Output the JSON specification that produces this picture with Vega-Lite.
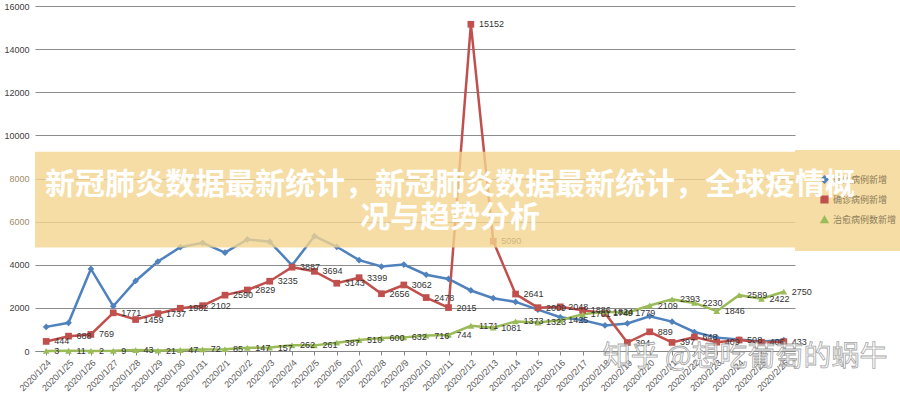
{
  "$schema": "https://vega.github.io/schema/vega-lite/v6.json",
  "width": 760,
  "height": 345,
  "autosize": {"type": "none"},
  "padding": {"left": 35, "top": 6, "right": 105, "bottom": 49},
  "background": "white",
  "config": {"view": {"stroke": null}, "font": "Liberation Sans"},
  "title": {
    "text": ["新冠肺炎数据最新统计，新冠肺炎数据最新统计，全球疫情概", "况与趋势分析"],
    "font": "Noto Sans CJK SC",
    "fontWeight": "bold",
    "fontSize": 30,
    "lineHeight": 33,
    "color": "white",
    "anchor": "middle",
    "frame": "group",
    "baseline": "top",
    "dx": 35,
    "offset": -231,
    "zindex": 5
  },
  "datasets": {
    "main": [
      {"date": "2020/1/24", "series": "疑似病例新增", "value": 1118},
      {"date": "2020/1/25", "series": "疑似病例新增", "value": 1309},
      {"date": "2020/1/26", "series": "疑似病例新增", "value": 3806},
      {"date": "2020/1/27", "series": "疑似病例新增", "value": 2077},
      {"date": "2020/1/28", "series": "疑似病例新增", "value": 3248},
      {"date": "2020/1/29", "series": "疑似病例新增", "value": 4148},
      {"date": "2020/1/30", "series": "疑似病例新增", "value": 4812},
      {"date": "2020/1/31", "series": "疑似病例新增", "value": 5019},
      {"date": "2020/2/1", "series": "疑似病例新增", "value": 4562},
      {"date": "2020/2/2", "series": "疑似病例新增", "value": 5173},
      {"date": "2020/2/3", "series": "疑似病例新增", "value": 5072},
      {"date": "2020/2/4", "series": "疑似病例新增", "value": 3971},
      {"date": "2020/2/5", "series": "疑似病例新增", "value": 5328},
      {"date": "2020/2/6", "series": "疑似病例新增", "value": 4833},
      {"date": "2020/2/7", "series": "疑似病例新增", "value": 4214},
      {"date": "2020/2/8", "series": "疑似病例新增", "value": 3916},
      {"date": "2020/2/9", "series": "疑似病例新增", "value": 4008},
      {"date": "2020/2/10", "series": "疑似病例新增", "value": 3536},
      {"date": "2020/2/11", "series": "疑似病例新增", "value": 3342},
      {"date": "2020/2/12", "series": "疑似病例新增", "value": 2807},
      {"date": "2020/2/13", "series": "疑似病例新增", "value": 2450},
      {"date": "2020/2/14", "series": "疑似病例新增", "value": 2277},
      {"date": "2020/2/15", "series": "疑似病例新增", "value": 1918},
      {"date": "2020/2/16", "series": "疑似病例新增", "value": 1563},
      {"date": "2020/2/17", "series": "疑似病例新增", "value": 1432},
      {"date": "2020/2/18", "series": "疑似病例新增", "value": 1185},
      {"date": "2020/2/19", "series": "疑似病例新增", "value": 1277},
      {"date": "2020/2/20", "series": "疑似病例新增", "value": 1614},
      {"date": "2020/2/21", "series": "疑似病例新增", "value": 1361},
      {"date": "2020/2/22", "series": "疑似病例新增", "value": 882},
      {"date": "2020/2/23", "series": "疑似病例新增", "value": 620},
      {"date": "2020/2/24", "series": "疑似病例新增", "value": 530},
      {"date": "2020/2/25", "series": "疑似病例新增", "value": 439},
      {"date": "2020/2/26", "series": "疑似病例新增", "value": 508},
      {"date": "2020/1/24", "series": "确诊病例新增", "value": 444},
      {"date": "2020/1/25", "series": "确诊病例新增", "value": 688},
      {"date": "2020/1/26", "series": "确诊病例新增", "value": 769},
      {"date": "2020/1/27", "series": "确诊病例新增", "value": 1771},
      {"date": "2020/1/28", "series": "确诊病例新增", "value": 1459},
      {"date": "2020/1/29", "series": "确诊病例新增", "value": 1737},
      {"date": "2020/1/30", "series": "确诊病例新增", "value": 1982},
      {"date": "2020/1/31", "series": "确诊病例新增", "value": 2102},
      {"date": "2020/2/1", "series": "确诊病例新增", "value": 2590},
      {"date": "2020/2/2", "series": "确诊病例新增", "value": 2829},
      {"date": "2020/2/3", "series": "确诊病例新增", "value": 3235},
      {"date": "2020/2/4", "series": "确诊病例新增", "value": 3887},
      {"date": "2020/2/5", "series": "确诊病例新增", "value": 3694},
      {"date": "2020/2/6", "series": "确诊病例新增", "value": 3143},
      {"date": "2020/2/7", "series": "确诊病例新增", "value": 3399},
      {"date": "2020/2/8", "series": "确诊病例新增", "value": 2656},
      {"date": "2020/2/9", "series": "确诊病例新增", "value": 3062},
      {"date": "2020/2/10", "series": "确诊病例新增", "value": 2478},
      {"date": "2020/2/11", "series": "确诊病例新增", "value": 2015},
      {"date": "2020/2/12", "series": "确诊病例新增", "value": 15152},
      {"date": "2020/2/13", "series": "确诊病例新增", "value": 5090},
      {"date": "2020/2/14", "series": "确诊病例新增", "value": 2641},
      {"date": "2020/2/15", "series": "确诊病例新增", "value": 2009},
      {"date": "2020/2/16", "series": "确诊病例新增", "value": 2048},
      {"date": "2020/2/17", "series": "确诊病例新增", "value": 1886},
      {"date": "2020/2/18", "series": "确诊病例新增", "value": 1749},
      {"date": "2020/2/19", "series": "确诊病例新增", "value": 394},
      {"date": "2020/2/20", "series": "确诊病例新增", "value": 889},
      {"date": "2020/2/21", "series": "确诊病例新增", "value": 397},
      {"date": "2020/2/22", "series": "确诊病例新增", "value": 648},
      {"date": "2020/2/23", "series": "确诊病例新增", "value": 409},
      {"date": "2020/2/24", "series": "确诊病例新增", "value": 508},
      {"date": "2020/2/25", "series": "确诊病例新增", "value": 406},
      {"date": "2020/2/26", "series": "确诊病例新增", "value": 433},
      {"date": "2020/1/24", "series": "治愈病例数新增", "value": 3},
      {"date": "2020/1/25", "series": "治愈病例数新增", "value": 11},
      {"date": "2020/1/26", "series": "治愈病例数新增", "value": 2},
      {"date": "2020/1/27", "series": "治愈病例数新增", "value": 9},
      {"date": "2020/1/28", "series": "治愈病例数新增", "value": 43},
      {"date": "2020/1/29", "series": "治愈病例数新增", "value": 21},
      {"date": "2020/1/30", "series": "治愈病例数新增", "value": 47},
      {"date": "2020/1/31", "series": "治愈病例数新增", "value": 72},
      {"date": "2020/2/1", "series": "治愈病例数新增", "value": 85},
      {"date": "2020/2/2", "series": "治愈病例数新增", "value": 147},
      {"date": "2020/2/3", "series": "治愈病例数新增", "value": 157},
      {"date": "2020/2/4", "series": "治愈病例数新增", "value": 262},
      {"date": "2020/2/5", "series": "治愈病例数新增", "value": 261},
      {"date": "2020/2/6", "series": "治愈病例数新增", "value": 387},
      {"date": "2020/2/7", "series": "治愈病例数新增", "value": 510},
      {"date": "2020/2/8", "series": "治愈病例数新增", "value": 600},
      {"date": "2020/2/9", "series": "治愈病例数新增", "value": 632},
      {"date": "2020/2/10", "series": "治愈病例数新增", "value": 716},
      {"date": "2020/2/11", "series": "治愈病例数新增", "value": 744},
      {"date": "2020/2/12", "series": "治愈病例数新增", "value": 1171},
      {"date": "2020/2/13", "series": "治愈病例数新增", "value": 1081},
      {"date": "2020/2/14", "series": "治愈病例数新增", "value": 1373},
      {"date": "2020/2/15", "series": "治愈病例数新增", "value": 1323},
      {"date": "2020/2/16", "series": "治愈病例数新增", "value": 1425},
      {"date": "2020/2/17", "series": "治愈病例数新增", "value": 1701},
      {"date": "2020/2/18", "series": "治愈病例数新增", "value": 1824},
      {"date": "2020/2/19", "series": "治愈病例数新增", "value": 1779},
      {"date": "2020/2/20", "series": "治愈病例数新增", "value": 2109},
      {"date": "2020/2/21", "series": "治愈病例数新增", "value": 2393},
      {"date": "2020/2/22", "series": "治愈病例数新增", "value": 2230},
      {"date": "2020/2/23", "series": "治愈病例数新增", "value": 1846},
      {"date": "2020/2/24", "series": "治愈病例数新增", "value": 2589},
      {"date": "2020/2/25", "series": "治愈病例数新增", "value": 2422},
      {"date": "2020/2/26", "series": "治愈病例数新增", "value": 2750}
    ]
  },
  "layer": [
    {
      "data": {"name": "main"},
      "encoding": {
        "x": {
          "field": "date",
          "type": "ordinal",
          "scale": {
            "type": "point",
            "padding": 0.5,
            "domain": ["2020/1/24","2020/1/25","2020/1/26","2020/1/27","2020/1/28","2020/1/29","2020/1/30","2020/1/31","2020/2/1","2020/2/2","2020/2/3","2020/2/4","2020/2/5","2020/2/6","2020/2/7","2020/2/8","2020/2/9","2020/2/10","2020/2/11","2020/2/12","2020/2/13","2020/2/14","2020/2/15","2020/2/16","2020/2/17","2020/2/18","2020/2/19","2020/2/20","2020/2/21","2020/2/22","2020/2/23","2020/2/24","2020/2/25","2020/2/26"]
          },
          "axis": {
            "title": null,
            "labelAngle": -45,
            "labelFontSize": 9,
            "labelColor": "#595959",
            "labelOverlap": false,
            "labelPadding": 3,
            "domainColor": "#868686",
            "tickColor": "#868686",
            "tickSize": 4,
            "grid": false
          }
        },
        "y": {
          "field": "value",
          "type": "quantitative",
          "scale": {"domain": [0, 16000], "nice": false, "zero": true},
          "axis": {
            "title": null,
            "values": [0, 2000, 4000, 6000, 8000, 10000, 12000, 14000, 16000],
            "format": "d",
            "grid": true,
            "gridColor": "#8c8c8c",
            "domain": false,
            "ticks": false,
            "labelFontSize": 9,
            "labelPadding": 6,
            "labelColor": {"condition": {"test": "datum.value >= 5000 && datum.value <= 9000", "value": "#9e8e6a"}, "value": "#404040"}
          }
        }
      },
      "layer": [
        {
          "mark": {"type": "line", "strokeWidth": 2.5},
          "encoding": {
            "color": {
              "field": "series",
              "type": "nominal",
              "scale": {"domain": ["疑似病例新增", "确诊病例新增", "治愈病例数新增"], "range": ["#4F81BD", "#C0504D", "#9BBB59"]},
              "legend": {
                "title": null,
                "orient": "none",
                "legendX": 760,
                "legendY": 144,
                "padding": 25,
                "fillColor": "#f5dda5",
                "strokeColor": null,
                "labelFontSize": 9,
                "labelFont": "Noto Sans CJK SC",
                "labelColor": "#8c7c5a",
                "symbolSize": 45,
                "rowPadding": 7,
                "symbolOpacity": 0.6,
                "zindex": 1
              }
            }
          }
        },
        {
          "mark": {"type": "point", "filled": true, "opacity": 1, "size": 45},
          "encoding": {
            "color": {"field": "series", "type": "nominal"},
            "shape": {
              "field": "series",
              "type": "nominal",
              "scale": {"domain": ["疑似病例新增", "确诊病例新增", "治愈病例数新增"], "range": ["diamond", "square", "triangle-up"]}
            }
          }
        },
        {
          "transform": [{"filter": "datum.series !== '疑似病例新增'"}],
          "mark": {"type": "text", "align": "left", "baseline": "middle", "dx": 8, "fontSize": 9, "color": "#333333"},
          "encoding": {"text": {"field": "value", "type": "quantitative"}}
        }
      ]
    },
    {
      "data": {"values": [{}]},
      "mark": {"type": "rect", "fill": "#f3d58e", "opacity": 0.8},
      "encoding": {"y": {"datum": 9240}, "y2": {"datum": 4800}}
    },
    {
      "data": {"values": [{}]},
      "mark": {
        "type": "text",
        "text": "知乎 @想吃葡萄的蜗牛",
        "font": "Noto Sans CJK SC",
        "fontSize": 28,
        "fill": "#ffffff",
        "fillOpacity": 0.6,
        "stroke": "#8c8c8c",
        "strokeWidth": 0.8,
        "strokeOpacity": 0.8,
        "align": "center",
        "baseline": "middle",
        "dx": 330
      },
      "encoding": {"y": {"datum": -330}}
    }
  ]
}
